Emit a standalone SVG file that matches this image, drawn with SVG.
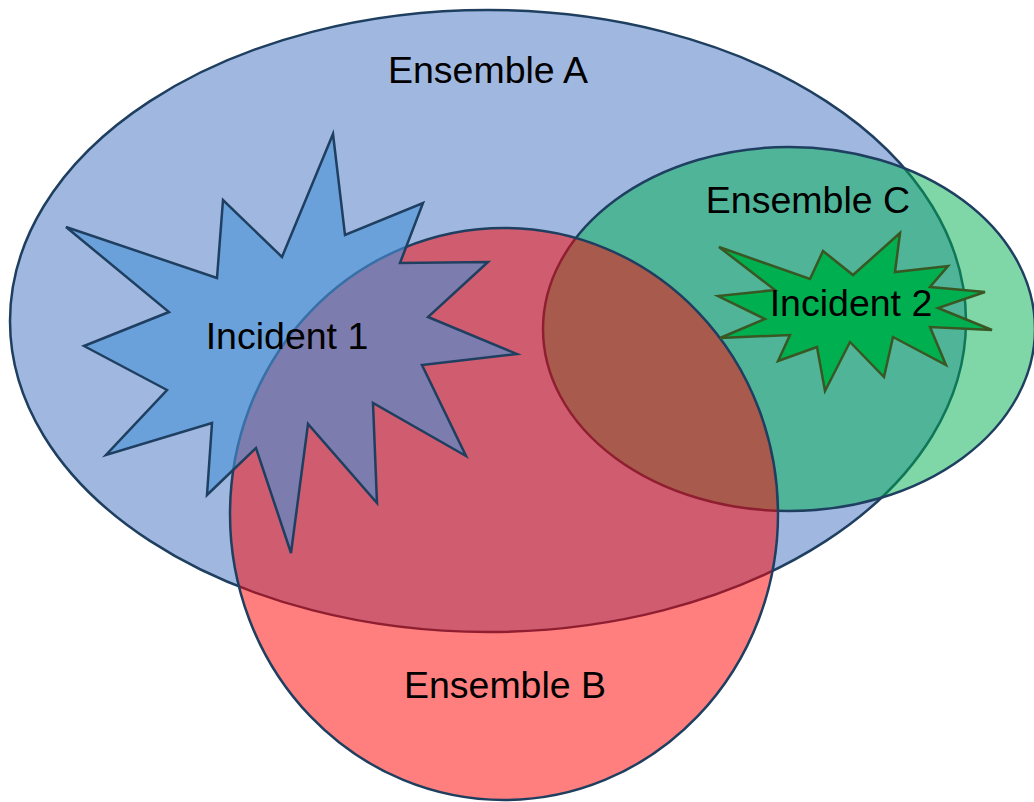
<svg xmlns="http://www.w3.org/2000/svg" width="1034" height="802" viewBox="0 0 1034 802">
<style>
.set{stroke:#1f3f60;stroke-width:2.5}
.lbl{font-family:"Liberation Sans",Arial,sans-serif;font-size:37.5px;fill:#000;text-anchor:middle}
</style>
<rect width="1034" height="802" fill="#fff"/>
<g id="ensembleA">
<ellipse class="set" cx="488" cy="321" rx="478" ry="311" fill="#a0b8e0"/>
</g>
<g id="ensembleC">
<ellipse class="set" cx="789" cy="329" rx="246" ry="182" fill="#00b050" fill-opacity="0.5"/>
</g>
<g id="ensembleB">
<ellipse class="set" cx="504" cy="514" rx="274" ry="286" fill="#ff0000" fill-opacity="0.5"/>
</g>
<g id="incident1">
<polygon class="set" fill="#4691d7" fill-opacity="0.6" points="333,134 345,235 423,203 400,263 488,262 428,317 517,354 422,365 466,456 373,403 377,503 308,424 291,553 256,448 207,495 212,423 106,455 167,390 84,346 169,312 66,227 217,278 223,200 282,257"/>
</g>
<g id="incident2">
<polygon fill="#00b050" stroke="#385723" stroke-width="2.5" points="900,233 895,272 948,266 930,287 985,292 938,308 992,330 930,327 946,365 893,337 884,377 850,342 825,391 817,347 778,361 790,335 720,338 765,319 718,296 775,290 719,247 810,279 823,251 853,275"/>
</g>
<g id="labels">
<text class="lbl" x="488" y="83">Ensemble A</text>
<text class="lbl" x="808" y="213">Ensemble C</text>
<text class="lbl" x="505" y="698">Ensemble B</text>
<text class="lbl" x="287" y="349">Incident 1</text>
<text class="lbl" x="851" y="316">Incident 2</text>
</g>
<g id="connectors"/>
</svg>
